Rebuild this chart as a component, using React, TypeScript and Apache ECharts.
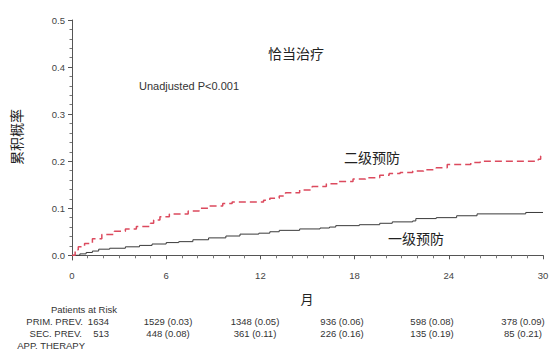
import React, { useEffect, useRef } from "react";
import * as echarts from "echarts";

// ---- data ----
const xTicks = [0, 6, 12, 18, 24, 30];
const yTicks = [0, 0.1, 0.2, 0.3, 0.4, 0.5];
const yMinorTicks = [0.02, 0.04, 0.06, 0.08, 0.12, 0.14, 0.16, 0.18, 0.22, 0.24, 0.26, 0.28, 0.32, 0.34, 0.36, 0.38, 0.42, 0.44, 0.46, 0.48];

// secondary prevention (二级预防), cumulative probability by month
const secMonths = [0, 0.2, 0.4, 0.8, 1.3, 1.9, 2.7, 3.4, 4.1, 5.0, 5.2, 5.6, 6.2, 7.4, 8.1, 8.7, 9.6, 10.2, 12.2, 12.6, 13.2, 13.6, 14.5, 15.3, 16.2, 17.0, 17.9, 18.7, 19.6, 20.2, 20.9, 21.7, 22.4, 23.2, 23.9, 25.4, 26.0, 29.7, 29.85, 30];
const secValues = [0, 0.012, 0.018, 0.025, 0.035, 0.044, 0.051, 0.056, 0.061, 0.068, 0.075, 0.082, 0.088, 0.094, 0.1, 0.105, 0.11, 0.113, 0.117, 0.121, 0.126, 0.133, 0.139, 0.146, 0.152, 0.157, 0.162, 0.165, 0.17, 0.174, 0.176, 0.179, 0.182, 0.186, 0.193, 0.197, 0.2, 0.204, 0.211, 0.211];

// primary prevention (一级预防)
const primMonths = [0, 0.5, 0.9, 1.3, 1.7, 2.4, 3.4, 4.3, 5.1, 6.0, 6.8, 7.7, 8.7, 9.8, 10.7, 11.9, 12.6, 13.2, 14.5, 15.8, 16.4, 16.8, 18.3, 19.6, 20.4, 21.7, 21.9, 23.2, 24.5, 25.8, 28.9, 30];
const primValues = [0, 0.003, 0.006, 0.009, 0.013, 0.015, 0.018, 0.021, 0.024, 0.027, 0.029, 0.033, 0.037, 0.041, 0.045, 0.047, 0.05, 0.053, 0.056, 0.058, 0.06, 0.063, 0.065, 0.068, 0.071, 0.073, 0.078, 0.08, 0.084, 0.088, 0.091, 0.092];

// risk table
const riskPrim = ["1529 (0.03)", "1348 (0.05)", "936 (0.06)", "598 (0.08)", "378 (0.09)"];
const riskSec = ["448 (0.08)", "361 (0.11)", "226 (0.16)", "135 (0.19)", "85 (0.21)"];
const riskPrimStart = "1634";
const riskSecStart = "513";

// ---- layout ----
const W = 554;
const H = 362;
const colX = [168, 255, 342, 432, 523];
const LATIN = "'Liberation Sans', Arial, sans-serif";
const CJK = "'Noto Sans CJK SC', sans-serif";
const TABLE_FONT = `9.5px ${LATIN}`;

export default function App() {
  const ref = useRef<HTMLDivElement>(null);

  useEffect(() => {
    if (!ref.current) return;
    const chart = echarts.init(ref.current, undefined, { renderer: "svg" });

    const sec = secMonths.map((m, i) => [m, secValues[i]]);
    const prim = primMonths.map((m, i) => [m, primValues[i]]);

    const t = (x: number, y: number, text: string, opts: any = {}) => ({
      type: "text",
      x,
      y,
      silent: true,
      rotation: opts.rotation || 0,
      style: {
        text,
        fill: opts.fill || "#333",
        font: opts.font || TABLE_FONT,
        textAlign: opts.align || "left",
        textVerticalAlign: "middle",
      },
    });

    const graphics: any[] = [
      t(296, 53, "恰当治疗", { font: `14px ${CJK}`, align: "center", fill: "#222" }),
      t(189, 86, "Unadjusted P<0.001", { font: `11px ${LATIN}`, align: "center", fill: "#333" }),
      t(372, 157, "二级预防", { font: `14px ${CJK}`, align: "center", fill: "#222" }),
      t(416, 238, "一级预防", { font: `14px ${CJK}`, align: "center", fill: "#222" }),
      t(307, 298, "月", { font: `13px ${CJK}`, align: "center", fill: "#222" }),
      t(16, 137, "累积概率", { font: `14px ${CJK}`, align: "center", fill: "#222", rotation: Math.PI / 2 }),
      t(117, 309, "Patients at Risk", { align: "right" }),
      t(83, 321, "PRIM. PREV.", { align: "right" }),
      t(109, 321, riskPrimStart, { align: "right" }),
      t(82, 333, "SEC. PREV.", { align: "right" }),
      t(109, 333, riskSecStart, { align: "right" }),
      t(85, 345, "APP. THERAPY", { align: "right" }),
    ];
    riskPrim.forEach((s, i) => graphics.push(t(colX[i], 321, s, { align: "center" })));
    riskSec.forEach((s, i) => graphics.push(t(colX[i], 333, s, { align: "center" })));

    chart.setOption({
      animation: false,
      backgroundColor: "#fff",
      grid: { left: 72, right: 11, top: 20, bottom: 102, containLabel: false },
      xAxis: {
        type: "value",
        min: xTicks[0],
        max: xTicks[xTicks.length - 1],
        interval: 6,
        axisLine: { show: true, lineStyle: { color: "#555", width: 1 } },
        axisTick: { show: true, length: 4, lineStyle: { color: "#555" } },
        minorTick: { show: true, splitNumber: 6, length: 3, lineStyle: { color: "#777" } },
        splitLine: { show: false },
        axisLabel: { fontSize: 9.5, color: "#444", margin: 10, fontFamily: LATIN },
      },
      yAxis: [
        {
          type: "value",
          min: -0.01,
          max: 0.5,
          axisLine: { show: true, lineStyle: { color: "#555", width: 1 } },
          axisTick: { show: true, length: 4, customValues: yTicks, lineStyle: { color: "#555" } },
          axisLabel: {
            customValues: yTicks,
            formatter: (v: number) => v.toFixed(1),
            fontSize: 9.5,
            color: "#444",
            margin: 7,
            fontFamily: LATIN,
          },
          splitLine: { show: false },
        },
        {
          type: "value",
          min: -0.01,
          max: 0.5,
          position: "left",
          axisLine: { show: false },
          axisTick: { show: true, length: 2.5, customValues: yMinorTicks, lineStyle: { color: "#777" } },
          axisLabel: { show: false },
          splitLine: { show: false },
        },
      ],
      series: [
        {
          type: "line",
          name: "一级预防",
          data: prim,
          step: "end",
          showSymbol: false,
          symbol: "none",
          lineStyle: { color: "#3a3a3a", width: 1 },
          z: 3,
        },
        {
          type: "line",
          name: "二级预防",
          data: sec,
          step: "end",
          showSymbol: false,
          symbol: "none",
          lineStyle: { color: "#dc4a5e", width: 1.5, type: [7, 4] },
          z: 4,
        },
      ],
      graphic: graphics,
    });

    return () => chart.dispose();
  }, []);

  return (
    <div
      ref={ref}
      style={{ position: "absolute", left: 0, top: 0, width: W, height: H, background: "#fff" }}
    />
  );
}
